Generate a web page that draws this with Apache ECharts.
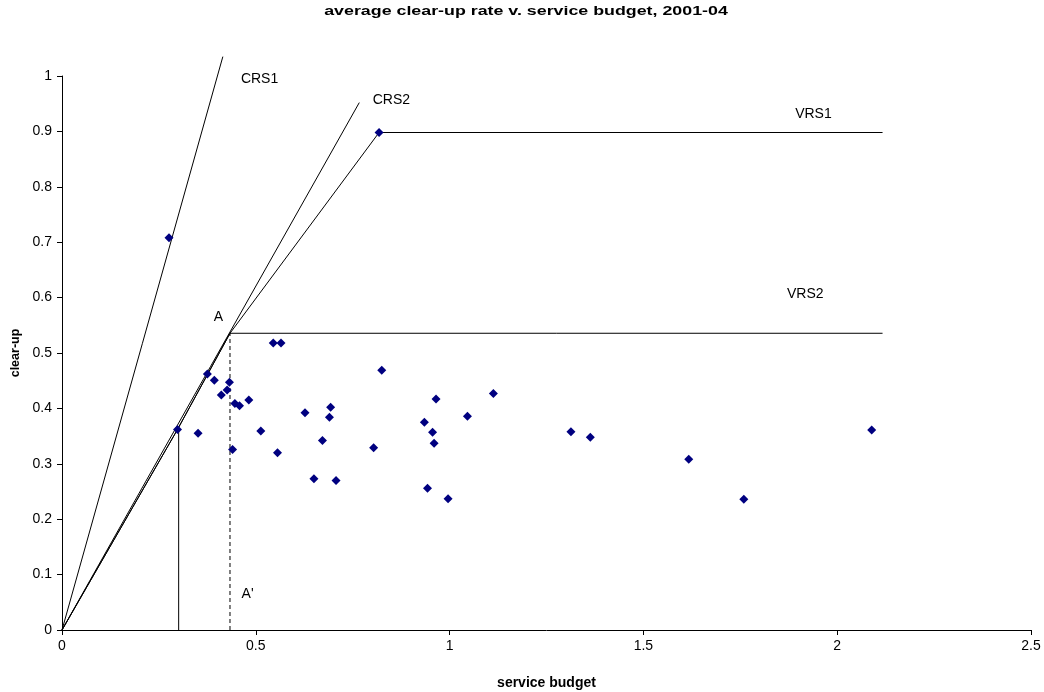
<!DOCTYPE html>
<html>
<head>
<meta charset="utf-8">
<script src="https://cdn.jsdelivr.net/npm/echarts@6/dist/echarts.min.js"></script>
<style>html,body{margin:0;padding:0;background:#fff}#c{width:1044px;height:692px}</style>
</head>
<body>
<div id="c"></div>
<script>
// observed units: service budget (x) vs clear-up rate (y)
const budget = [0.276,0.818,0.298,0.351,0.375,0.393,0.432,0.426,0.411,0.446,0.458,0.482,0.440,0.513,0.556,0.545,0.565,0.627,0.693,0.690,0.672,0.650,0.707,0.825,0.804,0.965,0.935,0.956,0.960,1.046,1.113,0.943,0.996,1.313,1.363,1.617,1.759,2.089];
const clearUp = [0.708,0.898,0.362,0.355,0.462,0.451,0.447,0.433,0.424,0.409,0.405,0.415,0.326,0.359,0.320,0.518,0.518,0.392,0.402,0.384,0.342,0.273,0.270,0.469,0.329,0.417,0.375,0.357,0.337,0.386,0.427,0.256,0.237,0.358,0.348,0.308,0.236,0.361];

// frontier lines
const crs1 = [[0,0],[0.415,1.035]];
const crs2 = [[0,0],[0.767,0.952]];
const vrs1 = [[0,0],[0.298,0.362],[0.4334,0.5356],[0.818,0.898],[2.117,0.898]];
const vrs2 = [[0,0],[0.298,0.362],[0.4334,0.5356],[2.117,0.5356]];
const dropB = [[0.301,0],[0.301,0.362]];
const dropA = [[0.4334,0],[0.4334,0.5356]];

// annotation texts and their anchor values
const annoText = ['CRS1','CRS2','VRS1','VRS2','A',"A'"];
const annoX = [0.511,0.851,1.940,1.919,0.405,0.480];
const annoY = [0.993,0.955,0.931,0.605,0.563,0.063];

const xTicks = ['0','0.5','1','1.5','2','2.5'];
const yTicks = ['0','0.1','0.2','0.3','0.4','0.5','0.6','0.7','0.8','0.9','1'];
const TITLE = 'average clear-up rate v. service budget, 2001-04';

const FONT = 'Liberation Sans, Arial, sans-serif';
const lineSeries = (data, dashed) => ({
  type: 'line', data: data, showSymbol: false, symbol: 'none', silent: true, clip: false,
  lineStyle: { color: '#000', width: 1, type: dashed ? [4, 3] : 'solid' },
  animation: false, z: 2
});

const chart = echarts.init(document.getElementById('c'), null, { renderer: 'canvas' });
chart.setOption({
  backgroundColor: '#fff',
  animation: false,
  graphic: [{
    type: 'text', x: 526, y: 11, scaleX: 1.37, silent: true,
    style: { text: TITLE, align: 'center', verticalAlign: 'middle',
      font: 'bold 13px ' + FONT, fill: '#000' }
  }],
  grid: { left: 62, right: 13, top: 76, bottom: 62, containLabel: false, outerBoundsMode: 'none' },
  xAxis: {
    type: 'value', min: 0, max: 2.5, interval: 0.5,
    name: 'service budget', nameLocation: 'middle', nameGap: 46,
    nameTextStyle: { fontFamily: FONT, fontSize: 14, fontWeight: 'bold', color: '#000' },
    axisLine: { show: true, lineStyle: { color: '#000', width: 1 } },
    axisTick: { show: true, length: 5, lineStyle: { color: '#000' } },
    splitLine: { show: false },
    axisLabel: { fontFamily: FONT, fontSize: 14, color: '#000', margin: 9,
      formatter: v => xTicks[Math.round(v / 0.5)] }
  },
  yAxis: {
    type: 'value', min: 0, max: 1, interval: 0.1,
    name: 'clear-up', nameLocation: 'middle', nameGap: 39, nameRotate: 90,
    nameTextStyle: { fontFamily: FONT, fontSize: 12.5, fontWeight: 'bold', color: '#000' },
    axisLine: { show: true, lineStyle: { color: '#000', width: 1 } },
    axisTick: { show: true, length: 5, lineStyle: { color: '#000' } },
    splitLine: { show: false },
    axisLabel: { fontFamily: FONT, fontSize: 14, color: '#000', margin: 10,
      formatter: v => yTicks[Math.round(v / 0.1)] }
  },
  series: [
    lineSeries(crs1), lineSeries(crs2), lineSeries(vrs1), lineSeries(vrs2),
    lineSeries(dropB), lineSeries(dropA, true),
    {
      type: 'scatter', symbol: 'diamond', symbolSize: 9, z: 5,
      itemStyle: { color: '#000080', opacity: 1 },
      data: budget.map((b, i) => [b, clearUp[i]])
    },
    {
      type: 'scatter', symbolSize: 1, silent: true, z: 6,
      itemStyle: { color: 'rgba(0,0,0,0)', opacity: 1 },
      data: annoText.map((t, i) => ({ value: [annoX[i], annoY[i]], name: t })),
      label: { show: true, position: [0, 0], align: 'center', verticalAlign: 'middle',
        formatter: p => p.name, fontFamily: FONT, fontSize: 14, color: '#000',
        textBorderWidth: 0 }
    }
  ]
});
</script>
</body>
</html>
